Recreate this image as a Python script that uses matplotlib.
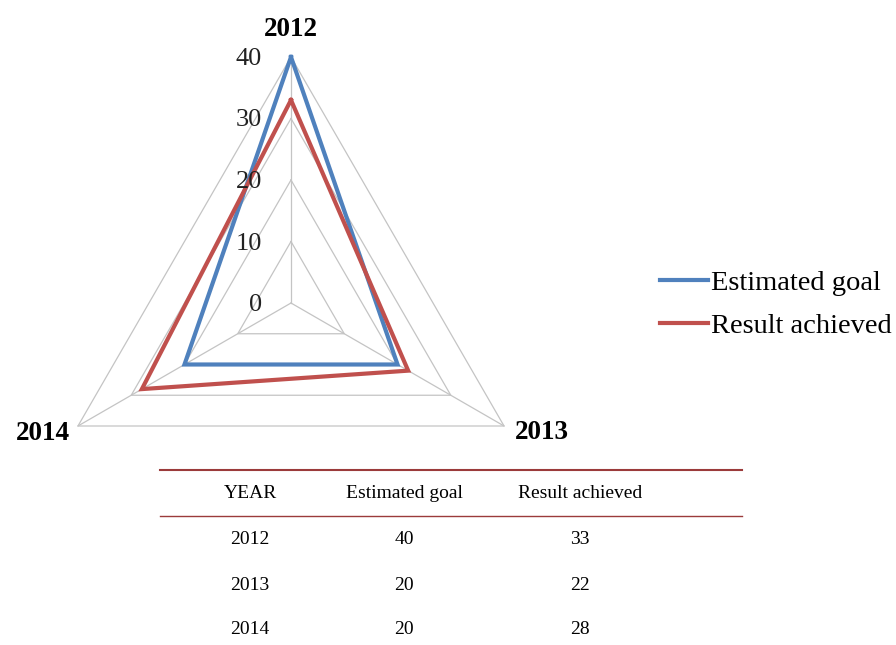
import numpy as np
import matplotlib.pyplot as plt
from matplotlib.lines import Line2D

plt.rcParams['font.family'] = ['Liberation Serif', 'DejaVu Serif']

years = ['2012', '2013', '2014']
goal = [40, 20, 20]
result = [33, 22, 28]
rings = [10, 20, 30, 40]
tick_vals = [0, 10, 20, 30, 40]
headers = ['YEAR', 'Estimated goal', 'Result achieved']

blue = '#4F81BD'
red = '#C0504D'
grid = '#C4C4C4'

W, H = 896, 645
fig = plt.figure(figsize=(W / 100, H / 100), dpi=100)

# radar axes: centre (291, 303) px, radius 246 px
cx, cy, R = 291, 303, 246
ax = fig.add_axes([(cx - R) / W, (H - cy - R) / H, 2 * R / W, 2 * R / H],
                  projection='polar')
ax.set_theta_zero_location('N')
ax.set_theta_direction(-1)
ax.set_ylim(0, 40)
ax.axis('off')

theta = np.linspace(0, 2 * np.pi, len(years), endpoint=False)
closed = np.append(theta, theta[0])

for r in rings:
    ax.plot(closed, [r] * (len(years) + 1), color=grid, lw=0.9, clip_on=False, zorder=1)
for t in theta:
    ax.plot([t, t], [0, 40], color=grid, lw=0.9, clip_on=False, zorder=1)

ax.plot(closed, goal + goal[:1], color=blue, lw=3, clip_on=False, zorder=3,
        label='Estimated goal', solid_joinstyle='miter')
ax.plot(closed, result + result[:1], color=red, lw=3, clip_on=False, zorder=3,
        label='Result achieved', solid_joinstyle='miter')

for v in tick_vals:
    ax.annotate(str(v), xy=(0, v), xytext=(-29, -2), textcoords='offset pixels',
                ha='right', va='center', fontsize=19, color='#222222')

offsets = [(0, 27, 'center', 'center'), (11, -7, 'left', 'center'), (-8, -7, 'right', 'center')]
for t, y, (dx, dy, ha, va) in zip(theta, years, offsets):
    ax.annotate(y, xy=(t, 40), xytext=(dx, dy), textcoords='offset pixels',
                ha=ha, va=va, fontsize=19.5, fontweight='bold')

handles, labels = ax.get_legend_handles_labels()
fig.legend(handles, labels, loc='upper left', bbox_to_anchor=(660 / W, 1 - 270 / H),
           frameon=False, fontsize=20.5, handlelength=1.68, handletextpad=0.12,
           labelspacing=0.6, borderpad=0, borderaxespad=0)

# table below the chart
rule = '#9B3B3B'
fig.add_artist(Line2D([160 / W, 742 / W], [1 - 470 / H] * 2, color=rule, lw=1.5))
fig.add_artist(Line2D([160 / W, 742 / W], [1 - 516 / H] * 2, color=rule, lw=1.0))
col_x = [250, 404, 580]
for x, h in zip(col_x, headers):
    fig.text(x / W, 1 - 493 / H, h, ha='center', va='center', fontsize=14)
row_y = [540, 585, 630]
for y, yr, g, r in zip(row_y, years, goal, result):
    for x, s in zip(col_x, [yr, g, r]):
        fig.text(x / W, 1 - y / H, str(s), ha='center', va='center', fontsize=14)

fig.savefig('out.png', dpi=100)
